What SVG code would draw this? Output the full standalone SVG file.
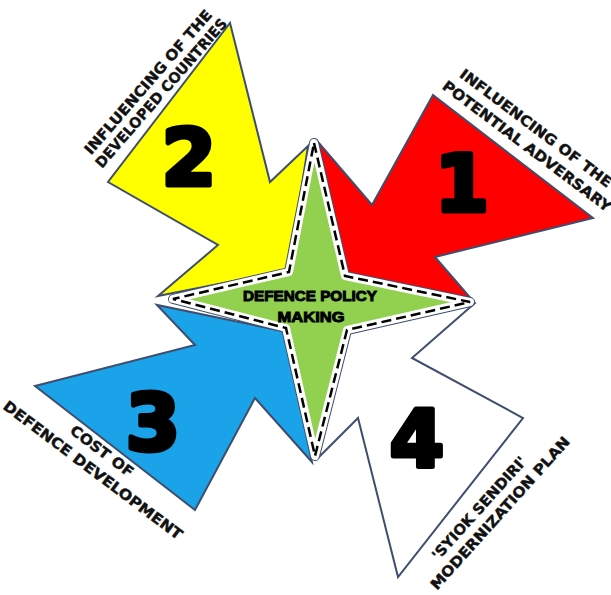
<svg xmlns="http://www.w3.org/2000/svg" width="611" height="595" viewBox="0 0 611 595">
<style>
.arrow{stroke:#3f4e6e;stroke-width:2;stroke-linejoin:miter}
.num{font-family:"DejaVu Sans",sans-serif;font-weight:bold;font-size:78px;fill:#000;stroke:#000;stroke-width:5;stroke-linejoin:round;text-anchor:middle}
.lbl{font-family:"DejaVu Sans",sans-serif;font-weight:bold;font-size:14.5px;fill:#111;stroke:#111;stroke-width:0.4;text-anchor:middle}
.ctr{font-family:"Liberation Sans",Arial,sans-serif;font-weight:bold;font-size:15px;fill:#000;stroke:#000;stroke-width:1;text-anchor:middle}
</style>
<rect width="611" height="595" fill="#fff"/>
<g id="connectors"></g>
<g id="node-1">
<polygon class="arrow" fill="#ff0000" points="318,142 372,205 433,95 593,218 435,257 474,302 347,273"/>
<text class="num" x="462" y="211">1</text>
<text class="lbl" transform="translate(536,128) rotate(37)" dy="0.36em" textLength="186" lengthAdjust="spacingAndGlyphs">INFLUENCING OF THE</text>
<text class="lbl" transform="translate(527,146) rotate(37)" dy="0.36em" textLength="207" lengthAdjust="spacingAndGlyphs">POTENTIAL ADVERSARY</text>
</g>
<g id="node-2">
<polygon class="arrow" fill="#ffff00" points="230,23 270,182 308,146 289,270 158,296 218,245 108,182"/>
<text class="num" x="189" y="185">2</text>
<text class="lbl" transform="translate(148,82) rotate(-49)" dy="0.36em" textLength="186" lengthAdjust="spacingAndGlyphs">INFLUENCING OF THE</text>
<text class="lbl" transform="translate(161,93) rotate(-49)" dy="0.36em" textLength="192" lengthAdjust="spacingAndGlyphs">DEVELOPED COUNTRIES</text>
</g>
<g id="node-3">
<polygon class="arrow" fill="#1aa3e8" points="157,305 195,345 35,386 195,510 255,398 312,462 287,332"/>
<text class="num" x="153" y="450">3</text>
<text class="lbl" transform="translate(102,451) rotate(37)" dy="0.36em" textLength="75" lengthAdjust="spacingAndGlyphs">COST OF</text>
<text class="lbl" transform="translate(93,470) rotate(37)" dy="0.36em" textLength="220" lengthAdjust="spacingAndGlyphs">DEFENCE DEVELOPMENT</text>
</g>
<g id="node-4">
<polygon class="arrow" fill="#ffffff" stroke="#4e5f80" points="475,303 412,358 523,418 398,577 358,418 318,458 348,333"/>
<text class="num" x="417" y="466">4</text>
<text class="lbl" transform="translate(479,508) rotate(-48)" dy="0.36em" textLength="133" lengthAdjust="spacingAndGlyphs">'SYIOK SENDIRI'</text>
<text class="lbl" transform="translate(500,513) rotate(-48)" dy="0.36em" textLength="200" lengthAdjust="spacingAndGlyphs">MODERNIZATION PLAN</text>
</g>
<g id="center">
<polygon points="314,143 345,276 470,302 347,330 315,456 286,328 173,299 289,272" fill="none" stroke="#3f4e6e" stroke-width="10" stroke-linejoin="round"/>
<polygon points="314,143 345,276 470,302 347,330 315,456 286,328 173,299 289,272" fill="#92d050" stroke="#ffffff" stroke-width="8" stroke-linejoin="round"/>
<polygon points="314,143 345,276 470,302 347,330 315,456 286,328 173,299 289,272" fill="none" stroke="#000" stroke-width="2.5" stroke-dasharray="10 5"/>
<text class="ctr" x="310" y="301" textLength="134" lengthAdjust="spacingAndGlyphs">DEFENCE POLICY</text>
<text class="ctr" x="311" y="322" textLength="67" lengthAdjust="spacingAndGlyphs">MAKING</text>
</g>
</svg>
